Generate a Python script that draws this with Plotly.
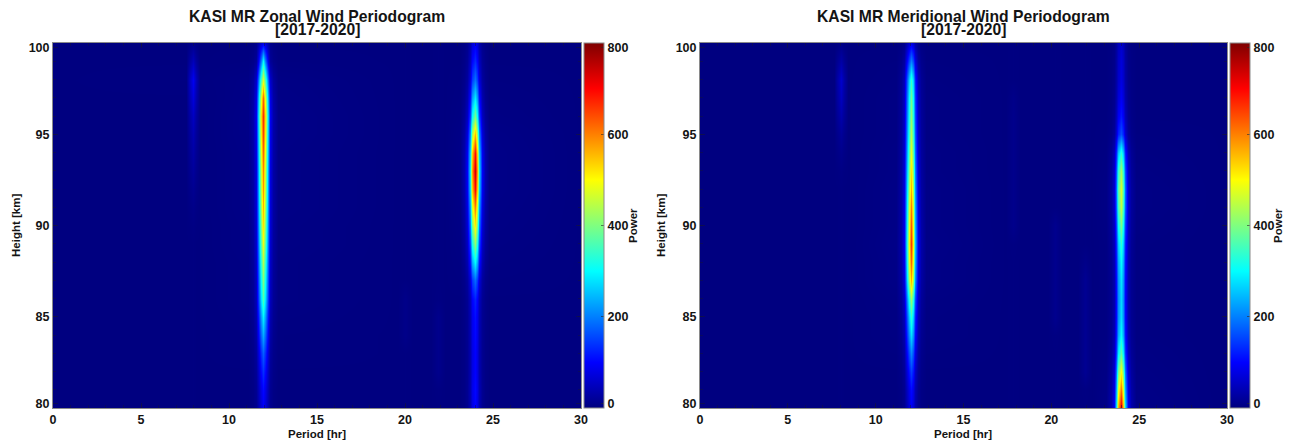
import plotly.graph_objects as go

heights = list(range(80, 101))
tick_x = [0, 5, 10, 15, 20, 25, 30]
tick_y_text = ["80", "85", "90", "95", "100"]
tick_c_text = ["0", "200", "400", "600", "800"]

zonal_periods = [0, 7.55, 7.75, 7.95, 8.15, 8.35,
                 11.08, 11.36, 11.53, 11.665, 11.80, 11.93, 12.06, 12.195, 12.33, 12.5, 12.78,
                 19.6, 20, 20.4, 21.5, 21.9, 22.3,
                 23.1, 23.38, 23.55, 23.685, 23.82, 23.95, 24.08, 24.215, 24.35, 24.52, 24.8, 30]

zonal_power = [
[1, 1,1,2,1,1, 1,5,12,34,70,90,70,34,12,5,1, 1,2,1, 1,2,1, 1,5,13,38,78,100,78,38,13,5,1, 1],
[1, 1,1,2,1,1, 1,5,14,40,82,105,82,40,14,5,1, 1,2,1, 1,3,1, 1,5,14,40,82,105,82,40,14,5,1, 1],
[1, 1,1,2,1,1, 1,7,18,51,105,135,105,51,18,7,1, 1,2,1, 1,10,1, 1,5,13,38,78,100,78,38,13,5,1, 1],
[1, 1,1,2,1,1, 2,9,23,67,137,175,137,67,23,9,2, 1,2,1, 1,10,1, 1,5,13,38,78,100,78,38,13,5,1, 1],
[1, 1,1,2,1,1, 2,12,31,89,183,235,183,89,31,12,2, 1,8,1, 1,10,1, 1,5,14,40,82,105,82,40,14,5,1, 1],
[1, 1,1,2,1,1, 3,15,38,110,226,290,226,110,38,15,3, 1,8,1, 1,10,1, 1,6,14,42,86,110,86,42,14,6,1, 1],
[1, 1,1,2,1,1, 4,18,47,137,281,360,281,137,47,18,4, 1,8,1, 1,3,1, 1,6,16,48,98,125,98,48,16,6,1, 1],
[1, 1,1,2,1,1, 4,20,52,152,312,400,312,152,52,20,4, 1,2,1, 1,2,1, 2,9,24,70,144,185,144,70,24,9,2, 1],
[1, 1,1,2,1,1, 4,22,57,167,343,440,343,167,57,22,4, 1,2,1, 1,2,1, 3,15,39,114,234,300,234,114,39,15,3, 1],
[1, 1,1,2,1,1, 5,24,63,184,378,485,378,184,63,24,5, 1,2,1, 1,2,1, 4,21,53,156,320,410,320,156,53,21,4, 1],
[1, 1,2,4,2,1, 5,26,68,198,406,520,406,198,68,26,5, 1,2,1, 1,2,1, 5,26,66,194,398,510,398,194,66,26,5, 1],
[1, 1,4,8,4,1, 6,28,72,211,433,555,433,211,72,28,6, 1,2,1, 1,2,1, 6,30,78,228,468,600,468,228,78,30,6, 1],
[1, 1,7,14,7,1, 6,29,75,220,452,580,452,220,75,29,6, 1,2,1, 1,2,1, 7,35,91,266,546,700,546,266,91,35,7, 1],
[1, 1,11,22,11,1, 6,30,77,226,464,595,464,226,77,30,6, 1,2,1, 1,2,1, 7,37,96,281,577,740,577,281,96,37,7, 1],
[1, 1,15,30,15,1, 6,32,82,239,491,620,491,239,82,32,6, 1,2,1, 1,2,1, 7,35,90,262,538,690,538,262,90,35,7, 1],
[1, 1,20,40,20,1, 7,33,86,251,515,650,515,251,86,33,7, 1,2,1, 1,2,1, 6,28,72,209,429,550,429,209,72,28,6, 1],
[1, 1,26,52,26,1, 7,35,90,262,530,665,530,262,90,35,7, 1,2,1, 1,2,1, 4,20,51,148,304,390,304,148,51,20,4, 1],
[1, 1,36,72,36,1, 6,31,81,236,484,620,484,236,81,31,6, 1,2,1, 1,2,1, 3,14,37,108,222,285,222,108,37,14,3, 1],
[1, 2,45,90,45,2, 5,24,61,179,367,470,367,179,61,24,5, 1,2,1, 1,2,1, 2,10,25,72,148,190,148,72,25,10,2, 1],
[1, 1,22,45,22,1, 2,8,20,80,200,300,200,80,20,8,2, 1,2,1, 1,2,1, 1,7,17,49,101,130,101,49,17,7,1, 1],
[1, 1,5,10,5,1, 1,4,10,30,62,80,62,30,10,4,1, 1,2,1, 1,2,1, 1,5,12,34,70,90,70,34,12,5,1, 1],
]

meridional_periods = [0, 7.6, 7.8, 8, 8.2, 8.4,
                      11.15, 11.43, 11.6, 11.735, 11.87, 12, 12.13, 12.265, 12.4, 12.57, 12.85,
                      17.4, 17.8, 18.2, 19.8, 20.2, 20.6, 21.5, 21.9, 22.3,
                      23.1, 23.38, 23.55, 23.685, 23.82, 23.95, 24.08, 24.215, 24.35, 24.52, 24.8, 30]

meridional_power = [
[1, 1,1,2,1,1, 1,5,12,34,70,90,70,34,12,5,1, 1,2,1, 1,2,1, 1,2,1, 7,36,94,274,562,720,562,274,94,36,7, 1],
[1, 1,1,2,1,1, 1,5,14,40,82,105,82,40,14,5,1, 1,2,1, 1,2,1, 1,3,1, 6,31,79,232,476,610,476,232,79,31,6, 1],
[1, 1,1,2,1,1, 1,7,19,55,113,145,113,55,19,7,1, 1,2,1, 1,2,1, 1,15,1, 5,25,65,190,390,500,390,190,65,25,5, 1],
[1, 1,1,2,1,1, 2,10,27,78,160,205,160,78,27,10,2, 1,2,1, 1,2,1, 1,15,1, 4,19,48,141,289,370,289,141,48,19,4, 1],
[1, 1,1,2,1,1, 3,14,36,105,215,275,215,105,36,14,3, 1,2,1, 1,3,1, 1,15,1, 3,15,39,114,234,300,234,114,39,15,3, 1],
[1, 1,1,2,1,1, 3,17,44,127,261,335,261,127,44,17,3, 1,2,1, 1,12,1, 1,15,1, 3,14,36,105,215,275,215,105,36,14,3, 1],
[1, 1,1,2,1,1, 4,21,55,160,328,420,328,160,55,21,4, 1,2,1, 1,12,1, 1,15,1, 3,14,35,103,211,270,211,103,35,14,3, 1],
[1, 1,1,2,1,1, 6,28,73,213,437,560,437,213,73,28,6, 1,2,1, 1,12,1, 1,15,1, 3,14,36,106,218,280,218,106,36,14,3, 1],
[1, 1,1,2,1,1, 6,31,81,236,484,620,484,236,81,31,6, 1,2,1, 1,12,1, 1,8,1, 3,15,39,114,234,300,234,114,39,15,3, 1],
[1, 1,1,2,1,1, 7,33,85,249,511,655,511,249,85,33,7, 1,3,1, 1,12,1, 1,2,1, 3,17,44,127,261,335,261,127,44,17,3, 1],
[1, 1,1,2,1,1, 6,32,82,239,491,630,491,239,82,32,6, 1,10,1, 1,12,1, 1,2,1, 4,20,51,148,304,390,304,148,51,20,4, 1],
[1, 1,1,2,1,1, 6,30,78,228,468,600,468,228,78,30,6, 1,10,1, 1,2,1, 1,2,1, 5,23,59,171,351,450,351,171,59,23,5, 1],
[1, 1,1,2,1,1, 6,28,73,213,437,560,437,213,73,28,6, 1,10,1, 1,2,1, 1,2,1, 5,24,61,179,367,470,367,179,61,24,5, 1],
[1, 1,2,4,2,1, 5,26,68,198,406,520,406,198,68,26,5, 1,10,1, 1,2,1, 1,2,1, 4,21,55,162,332,425,332,162,55,21,4, 1],
[1, 1,5,10,5,1, 5,24,62,182,374,480,374,182,62,24,5, 1,10,1, 1,2,1, 1,2,1, 3,17,43,125,257,330,257,125,43,17,3, 1],
[1, 1,10,20,10,1, 4,22,57,167,343,440,343,167,57,22,4, 1,10,1, 1,2,1, 1,2,1, 2,8,21,61,125,160,125,61,21,8,2, 1],
[1, 1,18,35,18,1, 4,21,53,156,320,410,320,156,53,21,4, 1,10,1, 1,2,1, 1,2,1, 1,6,15,44,90,115,90,44,15,6,1, 1],
[1, 1,25,50,25,1, 4,19,50,146,300,385,300,146,50,19,4, 1,8,1, 1,2,1, 1,2,1, 1,5,12,34,70,90,70,34,12,5,1, 1],
[1, 1,30,60,30,1, 3,17,44,129,265,340,265,129,44,17,3, 1,2,1, 1,2,1, 1,2,1, 1,4,10,29,59,75,59,29,10,4,1, 1],
[1, 1,15,30,15,1, 2,10,26,76,156,200,156,76,26,10,2, 1,2,1, 1,2,1, 1,2,1, 1,4,9,27,55,70,55,27,9,4,1, 1],
[1, 1,2,5,2,1, 1,4,10,30,62,80,62,30,10,4,1, 1,2,1, 1,2,1, 1,2,1, 1,3,8,23,47,60,47,23,8,3,1, 1],
]

titles = ["KASI MR Zonal Wind Periodogram", "KASI MR Meridional Wind Periodogram"]
subtitle = "[2017-2020]"

W, H = 1293, 443
FONT = "Liberation Sans"
INK = "#141414"
FRAME = "#8a8a8a"
jet = [[0, "#00007f"], [0.125, "#0000ff"], [0.375, "#00ffff"],
       [0.625, "#ffff00"], [0.875, "#ff0000"], [1, "#7f0000"]]


def hm(x, z, xa, ya, cbx):
    return go.Heatmap(
        x=x, y=heights, z=z, xaxis=xa, yaxis=ya, zmin=0, zmax=800,
        colorscale=jet, zsmooth="best", hoverinfo="skip",
        colorbar=dict(
            x=cbx / W, xanchor="left", xpad=0, ypad=0,
            y=1 - 225.5 / H, yanchor="middle", len=365 / H, lenmode="fraction",
            thickness=20, thicknessmode="pixels",
            outlinecolor=FRAME, outlinewidth=1,
            tickmode="array", tickvals=[10, 200, 400, 600, 790], ticktext=tick_c_text,
            ticks="inside", ticklen=3, tickcolor="rgba(40,40,40,0.6)",
            tickfont=dict(family=FONT, size=12.5, color=INK, weight="bold"),
        ),
    )


fig = go.Figure([
    hm(zonal_periods, zonal_power, "x", "y", 583.5),
    hm(meridional_periods, meridional_power, "x2", "y2", 1230),
])


def xaxis(x0, x1, anchor):
    return dict(
        domain=[x0 / W, x1 / W], range=[0, 30], anchor=anchor,
        tickmode="array", tickvals=tick_x, ticks="inside", ticklen=5,
        tickcolor="rgba(20,20,60,0.6)", showgrid=False, zeroline=False,
        showline=True, linecolor=FRAME, linewidth=1, mirror="ticks",
        tickfont=dict(family=FONT, size=12.5, color=INK, weight="bold"),
        minor=dict(dtick=1, ticks="inside", ticklen=3, tickcolor="rgba(20,20,60,0.5)", showgrid=False),
    )


def yaxis(anchor):
    return dict(
        domain=[1 - 408 / H, 1 - 43 / H], range=[80, 100], anchor=anchor,
        tickmode="array", tickvals=[80.25, 85, 90, 95, 99.75], ticktext=tick_y_text,
        ticks="inside", ticklen=5, tickcolor="rgba(20,20,60,0.6)",
        showgrid=False, zeroline=False,
        showline=True, linecolor=FRAME, linewidth=1, mirror="ticks",
        tickfont=dict(family=FONT, size=12.5, color=INK, weight="bold"),
        minor=dict(dtick=1, ticks="inside", ticklen=3, tickcolor="rgba(20,20,60,0.5)", showgrid=False),
    )


def label(text, px, py, size=11.5, angle=0):
    return dict(
        text=text, x=px / W, y=1 - py / H, xref="paper", yref="paper",
        xanchor="center", yanchor="middle", showarrow=False, textangle=angle,
        font=dict(family=FONT, size=size, color=INK, weight="bold"),
    )


annotations = [
    label(titles[0], 317, 17, 15.7), label(subtitle, 317, 30, 15.7),
    label(titles[1], 963, 17, 15.7), label(subtitle, 963, 30, 15.7),
    label("Period [hr]", 317, 434), label("Period [hr]", 963, 434),
    label("Height [km]", 16, 226, angle=-90), label("Height [km]", 661, 226, angle=-90),
    label("Power", 633, 226, angle=-90), label("Power", 1278, 226, angle=-90),
]

fig.update_layout(
    width=W, height=H, margin=dict(l=0, r=0, t=0, b=0, autoexpand=False),
    paper_bgcolor="white", plot_bgcolor="#00007f",
    xaxis=xaxis(53, 581, "y"), yaxis=yaxis("x"),
    xaxis2=xaxis(700, 1227, "y2"), yaxis2=yaxis("x2"),
    annotations=annotations, showlegend=False,
)

fig.write_html("out.html", config={"displayModeBar": False},
               post_script="document.body.style.margin='0';")
